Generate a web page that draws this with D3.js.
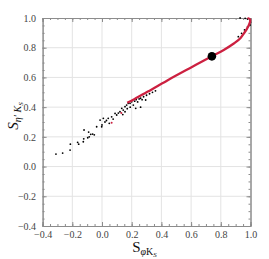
<!DOCTYPE html>
<html lang="en">
<head>
<meta charset="utf-8">
<title>S eta' Ks vs S phi Ks</title>
<script src="https://d3js.org/d3.v7.min.js"></script>
<style>
  body { margin: 0; background: #fff; }
  .tick text { font-family: "Liberation Serif", "DejaVu Serif", serif; font-size: 10px; fill: #444; }
  .axis path, .axis line { stroke: #8c8c8c; }
  .grid line { stroke: #e3e3e3; stroke-width: 1; }
</style>
</head>
<body>
<div id="viz"></div>
<script>
// tick values
var majorTicks = [-0.4, -0.2, 0.0, 0.2, 0.4, 0.6, 0.8, 1.0];

// red curve (theory line)
var curveX = [0.17, 0.22, 0.30, 0.44, 0.60, 0.74, 0.82, 0.89, 0.93, 0.956, 0.975, 0.99, 0.998, 0.995, 0.98];
var curveY = [0.43, 0.455, 0.50, 0.58, 0.667, 0.742, 0.785, 0.83, 0.862, 0.897, 0.925, 0.955, 0.98, 0.993, 1.0];

// loose red points below the curve
var redX = [0.065, 0.13];
var redY = [0.295, 0.36];

// black scan points
var dotX = [-0.31, -0.265, -0.215, -0.213, -0.164, -0.157, -0.126, -0.123, -0.121, -0.096, -0.086, -0.09, -0.076, -0.063, -0.052,
            -0.036, -0.013, -0.002, 0.009, 0.02, 0.042, 0.049, 0.065, 0.088, 0.099, 0.121, 0.133, 0.143, 0.155, 0.166,
            0.177, 0.189, 0.2, 0.211, 0.155, 0.0, 0.03, 0.075, 0.11, 0.14, 0.17, 0.19,
            0.22, 0.23, 0.25, 0.26, 0.28, 0.30, 0.32, 0.34, 0.24, 0.27, 0.36, 0.26, 0.294, 0.227,
            0.918, 0.94, 0.96, 0.98, 0.997, 1.0, 0.964, 0.98, 0.93];
var dotY = [0.084, 0.091, 0.111, 0.151, 0.163, 0.151, 0.167, 0.187, 0.246, 0.194, 0.20, 0.232, 0.217, 0.219, 0.214,
            0.268, 0.313, 0.268, 0.325, 0.30, 0.325, 0.291, 0.335, 0.358, 0.347, 0.369, 0.392, 0.38, 0.403, 0.414,
            0.426, 0.426, 0.436, 0.414, 0.369, 0.28, 0.31, 0.32, 0.36, 0.35, 0.39, 0.40,
            0.44, 0.45, 0.455, 0.46, 0.47, 0.48, 0.49, 0.50, 0.435, 0.45, 0.51, 0.40, 0.448, 0.392,
            0.874, 0.897, 0.92, 0.94, 0.953, 0.97, 0.998, 0.993, 1.0];

// best fit point
var bestX = 0.74, bestY = 0.742;

var margin = {top: 18, right: 18.5, bottom: 33, left: 42.6},
    W = 269, H = 259,
    width = W - margin.left - margin.right,
    height = H - margin.top - margin.bottom;

var svg = d3.select("#viz").append("svg")
    .attr("width", W).attr("height", H)
  .append("g")
    .attr("transform", "translate(" + margin.left + "," + margin.top + ")");

var x = d3.scaleLinear().domain([-0.4, 1.0]).range([0, width]);
var y = d3.scaleLinear().domain([-0.4, 1.0]).range([height, 0]);

var minorTicks = d3.range(-0.4, 1.0001, 0.05).map(function(v) { return +v.toFixed(2); });
var fmt = function(d) { return d3.format(".1f")(d).replace("-", "\u2212"); };

// grid
svg.append("g").attr("class", "grid")
  .selectAll("line").data(majorTicks.slice(1, -1)).enter().append("line")
    .attr("x1", function(d) { return x(d); }).attr("x2", function(d) { return x(d); })
    .attr("y1", 0).attr("y2", height);
svg.append("g").attr("class", "grid")
  .selectAll("line").data(majorTicks.slice(1, -1)).enter().append("line")
    .attr("y1", function(d) { return y(d); }).attr("y2", function(d) { return y(d); })
    .attr("x1", 0).attr("x2", width);

// frame axes, ticks pointing inward
function frame(axisFn, scale, tx, ty, labels) {
  var g = svg.append("g").attr("class", "axis").attr("transform", "translate(" + tx + "," + ty + ")");
  g.call(axisFn(scale).tickValues(minorTicks).tickSize(-2).tickFormat(""));
  var g2 = svg.append("g").attr("class", "axis").attr("transform", "translate(" + tx + "," + ty + ")");
  g2.call(axisFn(scale).tickValues(majorTicks).tickSize(-4).tickPadding(6)
      .tickFormat(labels ? fmt : ""));
  return g2;
}
frame(d3.axisBottom, x, 0, height, true).selectAll("text").attr("dy", "0.6em");
frame(d3.axisLeft, y, 0, 0, true).selectAll("text").attr("dx", "-0.05em");
frame(d3.axisTop, x, 0, 0, false);
frame(d3.axisRight, y, width, 0, false);

// black scan points
svg.append("g").selectAll("circle")
  .data(dotX.map(function(d, i) { return [d, dotY[i]]; }))
  .enter().append("circle")
    .attr("cx", function(d) { return x(d[0]); })
    .attr("cy", function(d) { return y(d[1]); })
    .attr("r", 0.9)
    .attr("fill", "#000");

// red curve
var line = d3.line()
    .x(function(d) { return x(d[0]); })
    .y(function(d) { return y(d[1]); })
    .curve(d3.curveCatmullRom);
svg.append("path")
    .datum(curveX.map(function(d, i) { return [d, curveY[i]]; }))
    .attr("d", line)
    .attr("fill", "none")
    .attr("stroke", "#cc2040")
    .attr("stroke-width", 2.3);

svg.append("g").selectAll("circle")
  .data(redX.map(function(d, i) { return [d, redY[i]]; }))
  .enter().append("circle")
    .attr("cx", function(d) { return x(d[0]); })
    .attr("cy", function(d) { return y(d[1]); })
    .attr("r", 1)
    .attr("fill", "#cc2040");

// best point
svg.append("circle")
    .attr("cx", x(bestX)).attr("cy", y(bestY))
    .attr("r", 4.3).attr("fill", "#000");

// axis titles
var serif = "'Liberation Serif', 'DejaVu Serif', serif";
var xt = svg.append("text")
    .attr("x", width / 2 - 2).attr("y", height + 26)
    .attr("text-anchor", "middle")
    .style("font-family", serif).style("font-size", "15px").attr("fill", "#111");
xt.append("tspan").text("S");
xt.append("tspan").attr("dy", 3).style("font-size", "10px").style("font-style", "italic").text("\u03c6");
xt.append("tspan").style("font-size", "10px").text("K");
xt.append("tspan").attr("dy", 2).style("font-size", "7px").style("font-style", "italic").text("S");

var yt = svg.append("text")
    .attr("transform", "translate(" + (-25) + "," + (height / 2 - 6) + ") rotate(-90)")
    .attr("text-anchor", "middle")
    .style("font-family", serif).style("font-size", "15px").attr("fill", "#111");
yt.append("tspan").style("font-style", "italic").text("S");
yt.append("tspan").attr("dy", 3).style("font-size", "10px").style("font-style", "italic").text("\u03b7\u2032 K");
yt.append("tspan").attr("dy", 2).style("font-size", "7px").style("font-style", "italic").text("S");
</script>
</body>
</html>
